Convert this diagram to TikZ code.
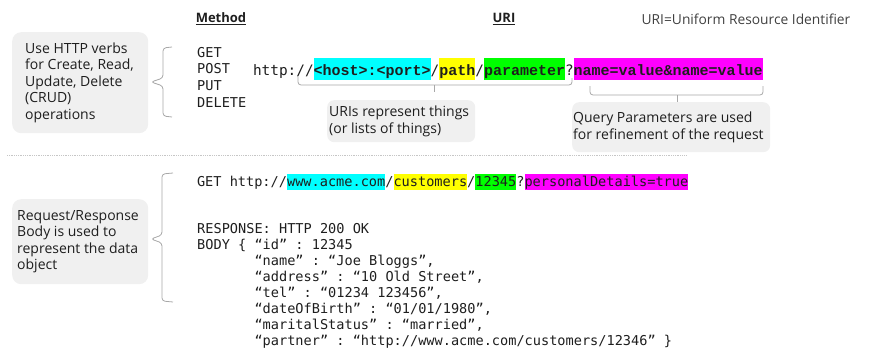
\documentclass[tikz,border=0pt]{standalone}
\usepackage{fontspec}
\setmainfont{Open Sans}
\newfontfamily\codefont{DejaVu Sans Mono}
\newfontfamily\boldcode{Liberation Mono}
\definecolor{notegray}{HTML}{F0F0F0}
\definecolor{bracketgray}{HTML}{A8A8A8}
\definecolor{ink}{HTML}{1E1E1E}
\definecolor{hlcyan}{HTML}{00FFFF}
\definecolor{hlyellow}{HTML}{FFFF00}
\definecolor{hlgreen}{HTML}{00FF00}
\definecolor{hlmagenta}{HTML}{FF00FF}
% keep the font's own space width inside aligned text blocks
\newcommand\naturalspaces{\spaceskip=\fontdimen2\font\relax\xspaceskip=\fontdimen2\font\relax}
\tikzset{
  note/.style={fill=notegray, rounded corners=9pt, align=left, anchor=north west,
    text=ink, inner ysep=0pt, font=\fontsize{14}{16.4}\selectfont},
  seg/.style={inner sep=0pt, outer sep=0pt, anchor=base west, text=ink},
  urirow/.style={seg, text height=17pt, text depth=5pt, font=\fontsize{14.4}{16}\codefont},
  urikey/.style={urirow, font=\fontsize{15}{16}\boldcode\bfseries},
  getrow/.style={seg, text height=12.5pt, text depth=4pt, font=\fontsize{13.6}{16}\codefont},
  codeblock/.style={anchor=base west, inner sep=0pt, align=left, text=ink, text width=600pt},
  bracket/.style={draw=bracketgray, line width=0.8pt, rounded corners=3pt},
  header/.style={font=\bfseries\fontsize{13}{15}\selectfont, text=ink, inner sep=0pt},
}
\begin{document}
\begin{tikzpicture}[x=1pt,y=-1pt]
\useasboundingbox (0,0) rectangle (871,351);

% column headings
\node[header] (mhead) at (221,19) {\underline{Method}};
\node[header] (uhead) at (504,19) {\underline{URI}};
\node[inner sep=0pt, text=ink!85, font=\fontsize{13.8}{16}\selectfont] (uridef) at (746,19) {URI=Uniform Resource Identifier};

% explanatory notes
\node[note, minimum width=136pt, minimum height=101pt, text width=110pt, inner xsep=13pt] (crud) at (12,32)
  {\naturalspaces\mbox{Use HTTP verbs}\\\mbox{for Create, Read,}\\\mbox{Update, Delete}\\\mbox{(CRUD)}\\\mbox{operations}};
\node[note, rounded corners=7pt, minimum width=148pt, minimum height=42pt, text width=144pt, inner xsep=2pt] (things) at (327,100)
  {\naturalspaces\mbox{URIs represent things}\\\mbox{(or lists of things)}};
\node[note, rounded corners=7pt, minimum width=198pt, minimum height=50pt, text width=196pt, inner xsep=1pt] (query) at (572,102)
  {\naturalspaces\mbox{Query Parameters are used}\\\mbox{for refinement of the request}};
\node[note, minimum width=136pt, minimum height=85pt, text width=126pt, inner xsep=5pt] (body) at (12,199)
  {\naturalspaces\mbox{Request/Response}\\\mbox{Body is used to}\\\mbox{represent the data}\\\mbox{object}};

% HTTP verbs
\node[codeblock, font=\fontsize{13.6}{16.7}\codefont] (verbs) at (197,57) {GET\\POST\\PUT\\DELETE};

% generic URI
\node[urirow] (u0) at (253,75) {http://};
\node[urikey, fill=hlcyan] (u1) at (u0.base east) {<host>:<port>};
\node[urirow] (u2) at (u1.base east) {/};
\node[urikey, fill=hlyellow] (u3) at (u2.base east) {path};
\node[urirow] (u4) at (u3.base east) {/};
\node[urikey, fill=hlgreen] (u5) at (u4.base east) {parameter};
\node[urirow] (u6) at (u5.base east) {?};
\node[urikey, fill=hlmagenta] (u7) at (u6.base east) {name=value\&name=value};

% example request
\node[getrow] (g0) at (197,186) {GET http://};
\node[getrow, fill=hlcyan] (g1) at (g0.base east) {www.acme.com};
\node[getrow] (g2) at (g1.base east) {/};
\node[getrow, fill=hlyellow] (g3) at (g2.base east) {customers};
\node[getrow] (g4) at (g3.base east) {/};
\node[getrow, fill=hlgreen] (g5) at (g4.base east) {12345};
\node[getrow] (g6) at (g5.base east) {?};
\node[getrow, fill=hlmagenta] (g7) at (g6.base east) {personalDetails=true};

% example response
\node[codeblock, font=\fontsize{13.6}{16.05}\codefont] (resp) at (197,233)
  {\naturalspaces
   RESPONSE: HTTP 200 OK\\
   BODY \{ “id” : 12345\\
   \hphantom{BODY\ \{\ }“name” : “Joe Bloggs”,\\
   \hphantom{BODY\ \{\ }“address” : “10 Old Street”,\\
   \hphantom{BODY\ \{\ }“tel” : “01234 123456”,\\
   \hphantom{BODY\ \{\ }“dateOfBirth” : “01/01/1980”,\\
   \hphantom{BODY\ \{\ }“maritalStatus” : “married”,\\
   \hphantom{BODY\ \{\ }“partner” : “http://www.acme.com/customers/12346” \}};

% braces grouping the code
\draw[bracket] (172,47) -- (163,48) -- (163,78) -- (151,82) -- (163,86) -- (163,116) -- (172,117);
\draw[bracket] (173,173) -- (162,174) -- (162,235) -- (151,239) -- (162,243) -- (162,301) -- (173,302);

% brackets under the URI parts
\draw[bracket] (298,77) -- (298,85) -- (572,85) -- (572,78);
\draw[bracket, rounded corners=0pt] (434,85) -- (434,92);
\draw[bracket] (590,86) -- (590,95) -- (763,95) -- (763,86);
\draw[bracket, rounded corners=0pt] (677,95) -- (677,102);

% separator
\draw[draw=gray!45, line width=0.9pt, dash pattern=on 0.9pt off 0.9pt] (7,155) -- (686,155);
\end{tikzpicture}
\end{document}
